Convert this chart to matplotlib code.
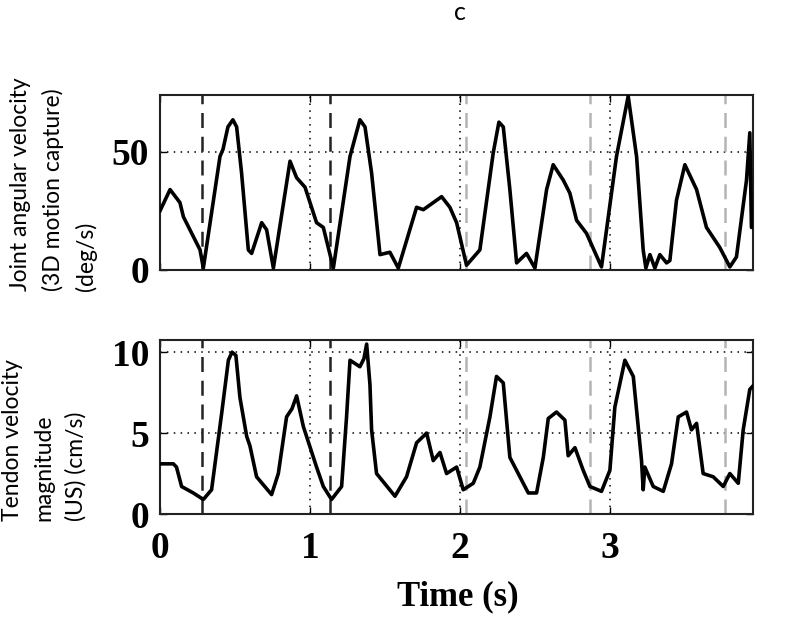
import matplotlib
matplotlib.use("Agg")
import matplotlib.pyplot as plt

# ----------------------------
# Data
# ----------------------------
t_joint = [0, 0.067, 0.133, 0.156, 0.267, 0.289, 0.4, 0.42, 0.453, 0.486,
           0.511, 0.544, 0.589, 0.611, 0.678, 0.711, 0.756, 0.867, 0.911, 0.967,
           1.044, 1.089, 1.156, 1.267, 1.333, 1.367, 1.411, 1.467, 1.533, 1.589,
           1.711, 1.756, 1.878, 1.933, 1.978, 2.044, 2.133, 2.222, 2.26, 2.289,
           2.333, 2.378, 2.444, 2.5, 2.578, 2.622, 2.689, 2.733, 2.778, 2.844,
           2.944, 3.044, 3.122, 3.178, 3.222, 3.24, 3.267, 3.3, 3.333, 3.378,
           3.4, 3.444, 3.5, 3.578, 3.644, 3.733, 3.8, 3.844, 3.911, 3.933,
           3.944, 3.953]
v_joint = [25, 34, 28.5, 22.5, 8.5, 0.8, 48, 51, 60.5, 63.5,
           60.5, 41, 8.5, 7, 20, 17, 0.8, 46, 39, 35,
           20, 18, 0.8, 48, 63.5, 60.5, 41, 6.5, 7.5, 0.8,
           26.5, 25.5, 31, 26.5, 20, 2, 8.5, 49.5, 62.5, 60.5,
           34, 3, 7, 0.8, 34, 44.5, 38, 32.5, 21, 15.5,
           1.3, 48, 73.5, 48, 8.5, 0.8, 6.5, 0.8, 6.5, 3,
           4, 29.5, 44.5, 34, 18, 9.5, 1.3, 5.5, 38, 58,
           18, 18]

t_tendon = [0, 0.089, 0.11, 0.144, 0.222, 0.289, 0.344, 0.411, 0.456, 0.48,
            0.506, 0.533, 0.578, 0.6, 0.644, 0.744, 0.789, 0.844, 0.88, 0.911,
            0.956, 1.044, 1.089, 1.144, 1.211, 1.244, 1.267, 1.333, 1.36, 1.378,
            1.4, 1.411, 1.444, 1.567, 1.644, 1.711, 1.778, 1.822, 1.867, 1.911,
            1.978, 2.022, 2.089, 2.133, 2.2, 2.244, 2.289, 2.333, 2.4, 2.456,
            2.511, 2.556, 2.589, 2.644, 2.7, 2.722, 2.767, 2.822, 2.867, 2.944,
            3.0, 3.033, 3.1, 3.156, 3.211, 3.222, 3.233, 3.289, 3.356, 3.411,
            3.456, 3.511, 3.544, 3.578, 3.622, 3.689, 3.756, 3.8, 3.856, 3.889,
            3.933, 3.953]
v_tendon = [3.1, 3.1, 2.9, 1.7, 1.3, 0.9, 1.5, 6.2, 9.5, 10.0,
            9.8, 7.2, 4.8, 4.2, 2.3, 1.2, 2.5, 6.0, 6.5, 7.3,
            5.4, 2.9, 1.7, 0.9, 1.7, 6.0, 9.5, 9.1, 9.6, 10.5,
            8.0, 5.2, 2.5, 1.1, 2.3, 4.4, 5.0, 3.3, 3.8, 2.5,
            2.9, 1.5, 1.9, 2.9, 6.0, 8.5, 8.1, 3.5, 2.3, 1.3,
            1.3, 3.5, 5.9, 6.3, 5.8, 3.6, 4.1, 2.7, 1.7, 1.4,
            2.7, 6.6, 9.5, 8.5, 3.3, 1.5, 2.9, 1.7, 1.4, 3.1,
            6.0, 6.3, 5.2, 5.6, 2.5, 2.3, 1.7, 2.5, 1.9, 5.2,
            7.7, 7.9]

black_events = [0.28, 1.135]
gray_events = [2.04, 2.868, 3.77]

x_ticks = [0, 1, 2, 3]
joint_ticks = [0, 50]
tendon_ticks = [0, 5, 10]

# ----------------------------
# Figure
# ----------------------------
fig = plt.figure(figsize=(8, 6.36), dpi=100)
ax1 = fig.add_axes([0.2, 0.5755, 0.741, 0.2752])
ax2 = fig.add_axes([0.2, 0.1918, 0.741, 0.2736])

serif = "Liberation Serif"
label_font = "Lato"

panels = [
    (ax1, t_joint, v_joint, joint_ticks, (0, 74)),
    (ax2, t_tendon, v_tendon, tendon_ticks, (0, 10.75)),
]
for ax, t, v, yt, ylim in panels:
    ax.plot(t, v, color="black", lw=2.6, zorder=3, solid_joinstyle="round")
    for x in black_events:
        ax.axvline(x, color="#222222", ls=(0, (6, 3.5)), lw=1.8, zorder=2)
    for x in gray_events:
        ax.axvline(x, color="#b4b4b4", ls=(0, (6, 3.5)), lw=1.8, zorder=2)
    ax.set_xlim(0, 3.953)
    ax.set_ylim(*ylim)
    ax.set_xticks(x_ticks)
    ax.set_yticks(yt)
    ax.grid(True, ls=(0, (1, 3.5)), color="black", lw=1.1)
    ax.tick_params(direction="in", length=5, width=1, top=True, right=True,
                   pad=8)
    for s in ax.spines.values():
        s.set_linewidth(1.5)
        s.set_color("#222222")
    for lab in ax.get_yticklabels() + ax.get_xticklabels():
        lab.set_fontfamily(serif)
        lab.set_fontweight("bold")
        lab.set_fontsize(27)

ax1.set_xticklabels([])
ax2.tick_params(axis="x", pad=12)

fig.text(0.5725, 1 - 605 / 636, "Time (s)", ha="center", va="baseline",
         family=serif, weight="bold", size=25)

fig.text(0.013, 1 - 291 / 636, "Joint angular velocity\n(3D motion capture)\n(deg/s)",
         rotation=90, ha="left", va="bottom", multialignment="left",
         family=label_font, size=16.5, linespacing=1.6)
fig.text(0.003, 1 - 521 / 636, "Tendon velocity\nmagnitude\n(US) (cm/s)",
         rotation=90, ha="left", va="bottom", multialignment="left",
         family=label_font, size=16.5, linespacing=1.6)

fig.text(0.575, 1 - 12 / 636, "c", ha="center", va="center",
         family=label_font, size=18)

plt.savefig("out.png", dpi=100)
